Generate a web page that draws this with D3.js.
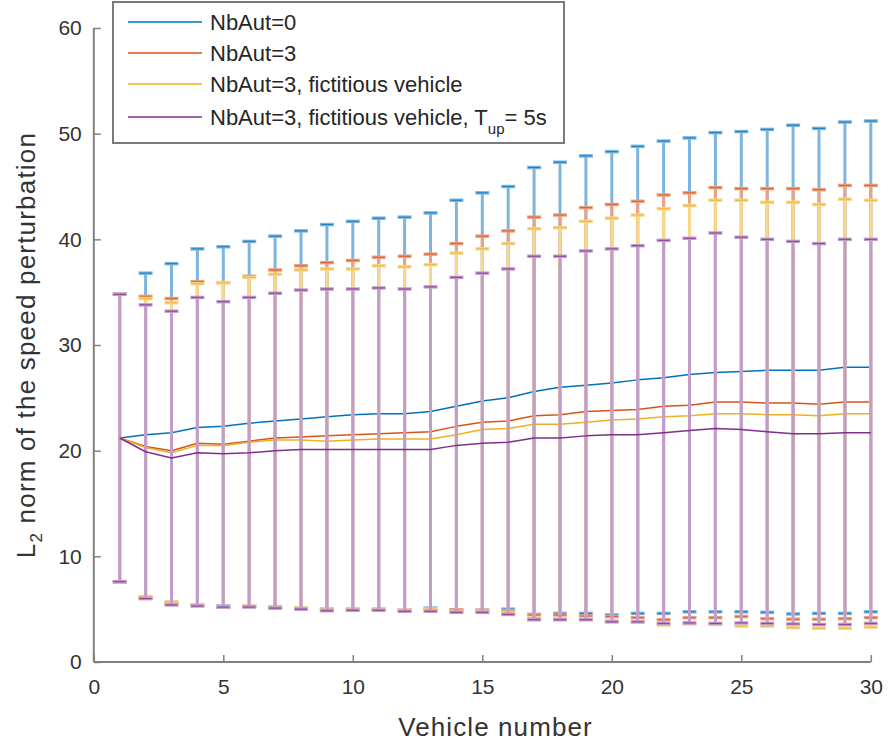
<!DOCTYPE html>
<html>
<head>
<meta charset="utf-8">
<script src="https://cdn.jsdelivr.net/npm/d3@7/dist/d3.min.js"></script>
<style>
  html, body { margin: 0; padding: 0; background: #fff; }
  svg { display: block; font-family: "Liberation Sans", Arial, Helvetica, sans-serif; }
</style>
</head>
<body>
<svg id="chart" width="891" height="744"></svg>
<script>
// Vehicle index along the platoon
const vehicles = [1,2,3,4,5,6,7,8,9,10,11,12,13,14,15,16,17,18,19,20,21,22,23,24,25,26,27,28,29,30];

// NbAut=0
const meanAut0 = [21.2,21.5,21.7,22.2,22.3,22.6,22.8,23.0,23.2,23.4,23.5,23.5,23.7,24.2,24.7,25.0,25.6,26.0,26.2,26.4,26.7,26.9,27.2,27.4,27.5,27.6,27.6,27.6,27.9,27.9];
const hiAut0   = [34.8,36.8,37.7,39.1,39.3,39.8,40.3,40.8,41.4,41.7,42.0,42.1,42.5,43.7,44.4,45.0,46.8,47.3,47.9,48.3,48.8,49.3,49.6,50.1,50.2,50.4,50.8,50.5,51.1,51.2];
const loAut0   = [7.6,6.1,5.6,5.4,5.3,5.3,5.2,5.1,5.0,5.0,5.0,4.9,5.1,4.9,4.9,5.0,4.5,4.6,4.6,4.45,4.6,4.6,4.75,4.75,4.75,4.7,4.55,4.6,4.6,4.75];

// NbAut=3
const meanAut3 = [21.2,20.4,20.0,20.7,20.6,20.9,21.2,21.3,21.4,21.5,21.6,21.7,21.8,22.3,22.7,22.8,23.3,23.4,23.7,23.8,23.9,24.2,24.3,24.6,24.6,24.5,24.5,24.4,24.6,24.6];
const hiAut3   = [34.8,34.6,34.4,36.0,35.9,36.5,37.1,37.5,37.8,38.0,38.3,38.4,38.6,39.6,40.3,40.8,42.1,42.3,43.0,43.3,43.6,44.2,44.4,44.9,44.8,44.8,44.8,44.7,45.1,45.1];
const loAut3   = [7.6,6.1,5.6,5.4,5.2,5.3,5.1,5.1,4.9,4.95,4.95,4.9,5.0,4.95,4.9,4.85,4.45,4.45,4.35,4.3,4.2,4.0,4.2,4.2,4.3,4.1,4.05,4.05,4.1,4.2];

// NbAut=3, fictitious vehicle
const meanFict = [21.2,20.3,19.8,20.5,20.5,20.8,21.0,21.0,20.9,21.0,21.1,21.1,21.1,21.5,22.0,22.1,22.5,22.5,22.7,22.9,23.0,23.2,23.3,23.5,23.5,23.4,23.4,23.3,23.5,23.5];
const hiFict   = [34.8,34.4,34.0,35.8,35.9,36.4,36.7,37.1,37.2,37.2,37.5,37.4,37.6,38.7,39.1,39.6,41.0,41.1,41.7,42.0,42.3,42.9,43.2,43.7,43.7,43.5,43.5,43.3,43.8,43.7];
const loFict   = [7.6,6.2,5.7,5.4,5.2,5.3,5.1,5.1,4.9,4.95,4.95,4.9,5.0,4.8,4.8,4.7,4.2,4.1,4.1,3.9,3.8,3.5,3.6,3.55,3.4,3.4,3.25,3.2,3.2,3.3];

// NbAut=3, fictitious vehicle, T_up = 5s
const meanTup = [21.2,19.9,19.3,19.8,19.7,19.8,20.0,20.1,20.1,20.1,20.1,20.1,20.1,20.5,20.7,20.8,21.2,21.2,21.4,21.5,21.5,21.7,21.9,22.1,22.0,21.8,21.6,21.6,21.7,21.7];
const hiTup   = [34.8,33.8,33.2,34.5,34.1,34.5,34.9,35.2,35.3,35.3,35.4,35.3,35.5,36.4,36.8,37.2,38.4,38.4,38.9,39.1,39.4,39.9,40.1,40.6,40.2,40.0,39.8,39.6,40.0,40.0];
const loTup   = [7.6,6.0,5.4,5.3,5.2,5.2,5.1,5.0,4.85,4.9,4.9,4.8,4.8,4.7,4.7,4.5,4.0,4.0,4.0,3.8,3.8,3.65,3.7,3.65,3.7,3.65,3.6,3.55,3.55,3.65];

const xTicks = [0,5,10,15,20,25,30];
const yTicks = [0,10,20,30,40,50,60];

const series = [
  { name: "NbAut=0", color: "#0072BD", light: "#7db5df", mean: meanAut0, hi: hiAut0, lo: loAut0 },
  { name: "NbAut=3", color: "#D95319", light: "#eca183", mean: meanAut3, hi: hiAut3, lo: loAut3 },
  { name: "NbAut=3, fictitious vehicle", color: "#EDB120", light: "#f6d78c", mean: meanFict, hi: hiFict, lo: loFict },
  { name: "NbAut=3, fictitious vehicle, T", sub: "up", tail: "= 5s", color: "#7E2F8E", light: "#c29dcc", mean: meanTup, hi: hiTup, lo: loTup }
];

const svg = d3.select("#chart");
const x = d3.scaleLinear().domain([0, 30]).range([93.8, 870.8]);
const y = d3.scaleLinear().domain([0, 60]).range([662, 28]);

const axisColor = "#808080";
const textColor = "#333333";

// Error bars and mean curves, one series after another
const capHalf = 7;
const line = d3.line().x((d, i) => x(vehicles[i])).y(d => y(d));

series.forEach(s => {
  const g = svg.append("g");
  const pts = vehicles.map((v, i) => ({ v, m: s.mean[i], hi: s.hi[i], lo: s.lo[i] }));

  g.selectAll("line.bar").data(pts).join("line")
    .attr("x1", d => x(d.v)).attr("x2", d => x(d.v))
    .attr("y1", d => y(d.lo)).attr("y2", d => y(d.hi))
    .attr("stroke", s.light).attr("stroke-width", 3);

  ["hi", "lo"].forEach(k => {
    g.selectAll("line.cap" + k).data(pts).join("line")
      .attr("x1", d => x(d.v) - capHalf).attr("x2", d => x(d.v) + capHalf)
      .attr("y1", d => y(d[k])).attr("y2", d => y(d[k]))
      .attr("stroke", s.light).attr("stroke-width", 3.5);
    g.selectAll("line.core" + k).data(pts).join("line")
      .attr("x1", d => x(d.v) - capHalf + 1).attr("x2", d => x(d.v) + capHalf - 1)
      .attr("y1", d => y(d[k])).attr("y2", d => y(d[k]))
      .attr("stroke", s.color).attr("stroke-width", 1.2).attr("opacity", 0.75);
  });

  g.append("path").datum(s.mean)
    .attr("d", line)
    .attr("fill", "none")
    .attr("stroke", s.color).attr("stroke-width", 1.5)
    .attr("stroke-linejoin", "round");
});

// Axes (left and bottom only, ticks pointing inward)
const xAxis = d3.axisBottom(x).tickValues(xTicks).tickSizeInner(-7).tickSizeOuter(0).tickPadding(17);
const yAxis = d3.axisLeft(y).tickValues(yTicks).tickSizeInner(-7).tickSizeOuter(0).tickPadding(12);

const gx = svg.append("g").attr("transform", `translate(0,${y(0)})`).call(xAxis);
const gy = svg.append("g").attr("transform", `translate(${x(0)},0)`).call(yAxis);

[gx, gy].forEach(g => {
  g.select(".domain").attr("stroke", axisColor).attr("stroke-width", 2);
  g.selectAll(".tick line").attr("stroke", axisColor).attr("stroke-width", 1.5);
  g.selectAll(".tick text").attr("fill", textColor).attr("font-size", 21)
    .attr("font-family", "'Liberation Sans', Arial, sans-serif");
});
gx.select(".domain").attr("d", `M${x(0)},0H${x(30)}`);
gy.select(".domain").attr("d", `M0,${y(60)}V${y(0)}`);

// Axis titles
svg.append("text")
  .attr("x", 495.5).attr("y", 736)
  .attr("text-anchor", "middle")
  .attr("font-size", 26).attr("letter-spacing", 1.1).attr("fill", textColor)
  .text("Vehicle number");

const yl = svg.append("text")
  .attr("transform", `translate(35,${(y(0) + y(60)) / 2}) rotate(-90)`)
  .attr("text-anchor", "middle")
  .attr("font-size", 26).attr("letter-spacing", 1.2).attr("fill", textColor);
yl.append("tspan").text("L");
yl.append("tspan").attr("font-size", 17).attr("dy", 7).text("2");
yl.append("tspan").attr("dy", -7).text(" norm of the speed perturbation");

// Legend
const legend = svg.append("g");
legend.append("rect")
  .attr("x", 113).attr("y", 2).attr("width", 451).attr("height", 141)
  .attr("fill", "#fff").attr("stroke", "#7a7a7a").attr("stroke-width", 2);

const rowY = [22, 53, 84, 117];
series.forEach((s, i) => {
  legend.append("line")
    .attr("x1", 128).attr("x2", 202).attr("y1", rowY[i]).attr("y2", rowY[i])
    .attr("stroke", s.color).attr("stroke-width", 1.6);
  const t = legend.append("text")
    .attr("x", 210).attr("y", rowY[i] + 7.5)
    .attr("font-size", 22).attr("fill", "#262626");
  t.append("tspan").text(s.name);
  if (s.sub) {
    t.append("tspan").attr("font-size", 15).attr("dy", 9).text(s.sub);
    t.append("tspan").attr("dy", -9).text(s.tail);
  }
});
</script>
</body>
</html>
